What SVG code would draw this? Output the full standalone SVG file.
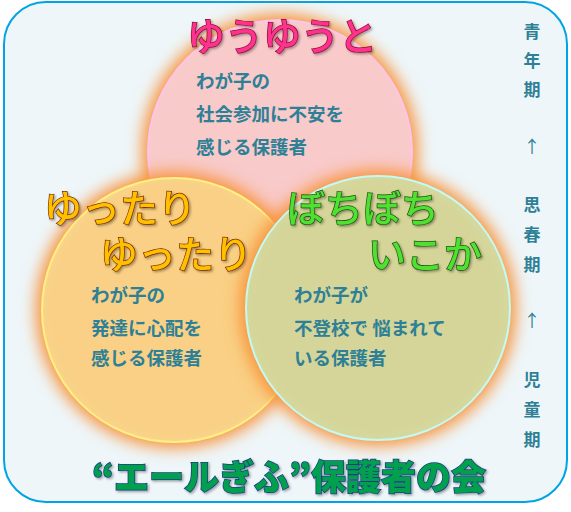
<svg xmlns="http://www.w3.org/2000/svg" width="571" height="512" viewBox="0 0 571 512">
<defs>
<filter id="glow" x="-30%" y="-30%" width="160%" height="160%">
<feGaussianBlur stdDeviation="8"/>
</filter>
<filter id="shadow" x="-10%" y="-20%" width="130%" height="160%">
<feDropShadow dx="1.5" dy="1.5" stdDeviation="1" flood-color="#000" flood-opacity="0.35"/>
</filter>
<style>
.body{font-family:"Noto Sans CJK JP","Noto Sans",sans-serif;font-weight:700;font-size:18.5px;fill:#2E8096}
.side{font-family:"Noto Sans CJK JP","Noto Sans",sans-serif;font-weight:700;font-size:17px;fill:#2E8096;text-anchor:middle}
.title{font-family:"Noto Sans CJK JP","Noto Sans",sans-serif;font-weight:500;font-size:38px;stroke-width:1.4px;paint-order:stroke;filter:url(#shadow)}
.glowc{fill:#F89238;filter:url(#glow)}
</style>
</defs>
<rect x="4" y="2" width="563" height="500" rx="42" ry="42" fill="#EEF6FA" stroke="#00A4E4" stroke-width="2"/>
<g id="pink">
<circle class="glowc" cx="280" cy="152" r="138"/>
<circle cx="280" cy="152" r="132" fill="#F8CACA" stroke="#FFC4EC" stroke-width="2"/>
</g>
<g id="yellow">
<circle class="glowc" cx="174" cy="310" r="138"/>
<circle cx="174" cy="310" r="132" fill="#F9DE96" fill-opacity="0.82" stroke="#FFF080" stroke-width="2"/>
</g>
<g id="green">
<circle class="glowc" cx="378" cy="308" r="138"/>
<circle cx="378" cy="308" r="132" fill="#CDE4AE" fill-opacity="0.82" stroke="#C4FAF4" stroke-width="2"/>
</g>
<g id="labels">
<text class="title" x="282" y="50" text-anchor="middle" fill="#FF3090" stroke="#8A1030">ゆうゆうと</text>
<text class="title" x="44" y="222" fill="#FFC000" stroke="#7A2A00">ゆったり</text>
<text class="title" x="100" y="268" fill="#FFC000" stroke="#7A2A00">ゆったり</text>
<text class="title" x="287" y="222" fill="#50E030" stroke="#1A5010">ぼちぼち</text>
<text class="title" x="368" y="268" fill="#50E030" stroke="#1A5010">いこか</text>
</g>
<g id="text-top">
<text class="body" x="196" y="88">わが子の</text>
<text class="body" x="196" y="121">社会参加に不安を</text>
<text class="body" x="196" y="154">感じる保護者</text>
</g>
<g id="text-left">
<text class="body" x="91" y="302">わが子の</text>
<text class="body" x="91" y="335">発達に心配を</text>
<text class="body" x="91" y="365">感じる保護者</text>
</g>
<g id="text-right">
<text class="body" x="294" y="302">わが子が</text>
<text class="body" x="294" y="335">不登校で 悩まれて</text>
<text class="body" x="294" y="365">いる保護者</text>
</g>
<g id="side">
<text class="side" x="532" y="38">青</text>
<text class="side" x="532" y="67">年</text>
<text class="side" x="532" y="96">期</text>
<text class="side" x="532" y="153" style="font-weight:400">↑</text>
<text class="side" x="532" y="211">思</text>
<text class="side" x="532" y="241">春</text>
<text class="side" x="532" y="271">期</text>
<text class="side" x="532" y="327" style="font-weight:400">↑</text>
<text class="side" x="532" y="386">児</text>
<text class="side" x="532" y="416">童</text>
<text class="side" x="532" y="446">期</text>
</g>
<text id="org" x="289" y="490" text-anchor="middle" style="font-family:'Noto Sans CJK JP','Noto Sans',sans-serif;font-weight:900;font-size:35px;stroke-width:1.5px;paint-order:stroke;filter:url(#shadow)" fill="#00A050" stroke="#1A3C80">“エールぎふ”保護者の会</text>
</svg>
